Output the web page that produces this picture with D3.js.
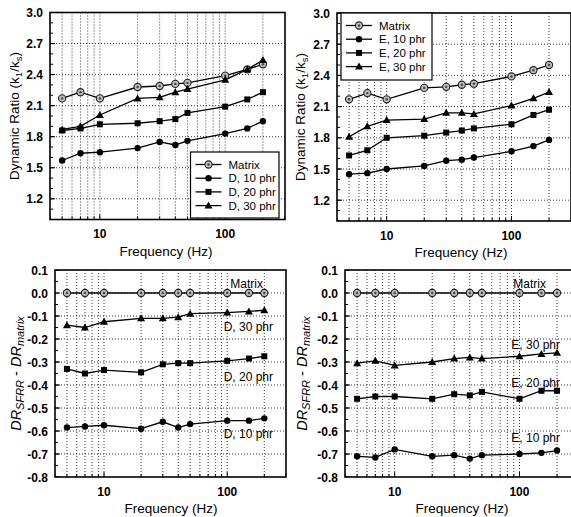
<!DOCTYPE html>
<html>
<head>
<meta charset="utf-8">
<script src="https://cdn.jsdelivr.net/npm/d3@7"></script>
<style>
  body { margin: 0; background: #fff; }
  svg { font-family: "Liberation Sans", Arial, sans-serif; }
</style>
</head>
<body>
<div id="container"></div>
<script>
// Frequencies (Hz) shared by all panels
const freq = [5, 7, 10, 20, 30, 40, 50, 100, 150, 200];

// Dynamic ratio, top panels
const matrixDR = [2.17, 2.23, 2.17, 2.28, 2.29, 2.31, 2.32, 2.39, 2.45, 2.50];
const d10DR = [1.57, 1.64, 1.65, 1.69, 1.75, 1.72, 1.76, 1.83, 1.88, 1.95];
const d20DR = [1.86, 1.88, 1.92, 1.93, 1.95, 1.97, 2.03, 2.09, 2.16, 2.23];
const d30DR = [1.87, 1.90, 2.01, 2.17, 2.18, 2.23, 2.26, 2.35, 2.45, 2.54];
const e10DR = [1.45, 1.46, 1.50, 1.53, 1.58, 1.59, 1.61, 1.67, 1.72, 1.78];
const e20DR = [1.63, 1.68, 1.80, 1.82, 1.85, 1.87, 1.89, 1.93, 2.02, 2.07];
const e30DR = [1.81, 1.91, 1.97, 1.98, 2.04, 2.04, 2.03, 2.11, 2.18, 2.24];

// DR_SFRR - DR_matrix, bottom panels
const matrixDiff = [0, 0, 0, 0, 0, 0, 0, 0, 0, 0];
const d10Diff = [-0.585, -0.58, -0.575, -0.59, -0.56, -0.585, -0.57, -0.555, -0.555, -0.545];
const d20Diff = [-0.33, -0.35, -0.335, -0.345, -0.31, -0.305, -0.305, -0.295, -0.285, -0.275];
const d30Diff = [-0.14, -0.15, -0.125, -0.11, -0.11, -0.105, -0.09, -0.085, -0.08, -0.075];
const e10Diff = [-0.71, -0.715, -0.68, -0.71, -0.705, -0.72, -0.705, -0.70, -0.695, -0.685];
const e20Diff = [-0.46, -0.45, -0.45, -0.46, -0.44, -0.445, -0.43, -0.46, -0.425, -0.425];
const e30Diff = [-0.305, -0.295, -0.315, -0.30, -0.285, -0.28, -0.285, -0.275, -0.265, -0.26];

// Tick labels
const xTickLabels = [10, 100];
const topYTicks = [1.2, 1.5, 1.8, 2.1, 2.4, 2.7, 3.0];
const bottomYTicks = [-0.8, -0.7, -0.6, -0.5, -0.4, -0.3, -0.2, -0.1, 0.0, 0.1];

const svg = d3.select("#container").append("svg")
    .attr("width", 571)
    .attr("height", 517);

// marker shapes
function drawMarker(g, kind, x, y) {
  if (kind === "matrix") {
    g.append("circle").attr("cx", x).attr("cy", y).attr("r", 3.6)
      .attr("fill", "#bdbdbd").attr("stroke", "#222").attr("stroke-width", 1.1);
    g.append("circle").attr("cx", x).attr("cy", y).attr("r", 1.2).attr("fill", "#444");
  } else if (kind === "circle") {
    g.append("circle").attr("cx", x).attr("cy", y).attr("r", 3.2).attr("fill", "#000");
  } else if (kind === "square") {
    g.append("rect").attr("x", x - 3).attr("y", y - 3).attr("width", 6).attr("height", 6).attr("fill", "#000");
  } else {
    g.append("path").attr("d", `M${x},${y - 4}L${x + 4},${y + 3}L${x - 4},${y + 3}Z`).attr("fill", "#000");
  }
}

function drawPanel(p) {
  const g = svg.append("g");
  const x = d3.scaleLog().domain([4, 300]).range([p.left, p.right]);
  const y = d3.scaleLinear().domain(p.yDomain).range([p.bottom, p.top]);

  // clip to the visible area of the frame
  const clipId = "clip" + p.id;
  svg.append("clipPath").attr("id", clipId)
    .append("rect").attr("x", p.left).attr("y", p.top)
    .attr("width", Math.min(p.right, 571) - p.left).attr("height", p.bottom - p.top);
  const inner = g.append("g").attr("clip-path", `url(#${clipId})`);

  // log minor values
  const xMinor = [];
  for (let dec = 1; dec <= 100; dec *= 10)
    for (let k = 1; k <= 9; k++) {
      const v = k * dec;
      if (v >= 4 && v <= 300) xMinor.push(v);
    }

  // dotted grid
  inner.selectAll(".vg").data(xMinor.filter(v => v > 4 && v < 300)).join("line")
    .attr("x1", d => x(d)).attr("x2", d => x(d))
    .attr("y1", p.top).attr("y2", p.bottom)
    .attr("stroke", "#222").attr("stroke-width", 0.9).attr("stroke-dasharray", "1,2");
  inner.selectAll(".hg").data(p.yTicks.filter(v => y(v) > p.top + 1 && y(v) < p.bottom - 1)).join("line")
    .attr("x1", p.left).attr("x2", p.right)
    .attr("y1", d => y(d)).attr("y2", d => y(d))
    .attr("stroke", "#222").attr("stroke-width", 0.9).attr("stroke-dasharray", "1,2");

  // inward ticks
  inner.selectAll(".xt").data(xMinor).join("line")
    .attr("x1", d => x(d)).attr("x2", d => x(d))
    .attr("y1", p.bottom).attr("y2", d => p.bottom - (xTickLabels.includes(d) ? 5 : 3))
    .attr("stroke", "#000").attr("stroke-width", 1);
  const yMinor = d3.range(p.yDomain[0], p.yDomain[1] + 1e-9, p.yMinorStep);
  inner.selectAll(".ytm").data(yMinor).join("line")
    .attr("x1", p.left).attr("x2", p.left + 3)
    .attr("y1", d => y(d)).attr("y2", d => y(d))
    .attr("stroke", "#000").attr("stroke-width", 1);
  inner.selectAll(".ytM").data(p.yTicks).join("line")
    .attr("x1", p.left).attr("x2", p.left + 5)
    .attr("y1", d => y(d)).attr("y2", d => y(d))
    .attr("stroke", "#000").attr("stroke-width", 1);

  // frame
  g.append("rect").attr("x", p.left).attr("y", p.top)
    .attr("width", p.right - p.left).attr("height", p.bottom - p.top)
    .attr("fill", "none").attr("stroke", "#000").attr("stroke-width", 1.6);

  // tick labels
  g.selectAll(".yl").data(p.yTicks).join("text")
    .attr("x", p.left - 7).attr("y", d => y(d) + 4.5)
    .attr("text-anchor", "end").attr("font-size", 12).attr("font-weight", "bold")
    .text(d => d.toFixed(1));
  g.selectAll(".xl").data(xTickLabels).join("text")
    .attr("x", d => x(d)).attr("y", p.bottom + 18.5)
    .attr("text-anchor", "middle").attr("font-size", 12).attr("font-weight", "bold")
    .text(d => d);

  // axis titles
  g.append("text").attr("x", p.xTitleX).attr("y", p.bottom + 36)
    .attr("text-anchor", "middle").attr("font-size", 13.5)
    .text("Frequency (Hz)");
  const yt = g.append("text")
    .attr("transform", `translate(${p.yTitleX},${(p.top + p.bottom) / 2}) rotate(-90)`)
    .attr("text-anchor", "middle").attr("font-size", p.yTitleSize);
  p.yTitle(yt);

  // series
  const line = d3.line().x((d, i) => x(freq[i])).y(d => y(d));
  p.series.forEach(s => {
    inner.append("path").datum(s.values).attr("d", line)
      .attr("fill", "none").attr("stroke", "#000").attr("stroke-width", 1.3);
    s.values.forEach((v, i) => drawMarker(inner, s.marker, x(freq[i]), y(v)));
  });

  // legend
  if (p.legend) {
    const L = p.legend;
    g.append("rect").attr("x", L.x).attr("y", L.y).attr("width", L.w).attr("height", L.h)
      .attr("fill", "#fff").attr("stroke", "#000").attr("stroke-width", 1.2);
    p.series.forEach((s, i) => {
      const cy = L.y + 12.5 + i * 13.7;
      g.append("line").attr("x1", L.x + 5).attr("x2", L.x + 31).attr("y1", cy).attr("y2", cy)
        .attr("stroke", "#000").attr("stroke-width", 1.3);
      drawMarker(g, s.marker, L.x + 18, cy);
      g.append("text").attr("x", L.x + 38).attr("y", cy + 4.2)
        .attr("font-size", 11.5).text(s.name);
    });
  }

  // inline labels
  if (p.labels) {
    p.labels.forEach(l => {
      g.append("text").attr("x", l.x).attr("y", y(l.v) + 4.5)
        .attr("text-anchor", "end").attr("font-size", 12).text(l.text);
    });
  }
}

function topTitle(t) {
  t.append("tspan").text("Dynamic Ratio (k");
  t.append("tspan").attr("font-size", 9.5).attr("dy", 3).text("1");
  t.append("tspan").attr("dy", -3).text("/k");
  t.append("tspan").attr("font-size", 9.5).attr("dy", 3).text("s");
  t.append("tspan").attr("dy", -3).text(")");
}
function bottomTitle(t) {
  t.append("tspan").attr("font-style", "italic").text("DR");
  t.append("tspan").attr("font-style", "italic").attr("font-size", 11).attr("dy", 3).text("SFRR");
  t.append("tspan").attr("dy", -3).text(" - ");
  t.append("tspan").attr("font-style", "italic").text("DR");
  t.append("tspan").attr("font-style", "italic").attr("font-size", 11).attr("dy", 3).text("matrix");
}

drawPanel({
  id: 1, left: 50, right: 285, top: 12.5, bottom: 219.5,
  yDomain: [1.0, 3.0], yTicks: topYTicks, yMinorStep: 0.1,
  xTitleX: 166, yTitleX: 19, yTitle: topTitle, yTitleSize: 13.5,
  series: [
    { name: "Matrix", marker: "matrix", values: matrixDR },
    { name: "D, 10 phr", marker: "circle", values: d10DR },
    { name: "D, 20 phr", marker: "square", values: d20DR },
    { name: "D, 30 phr", marker: "triangle", values: d30DR }
  ],
  legend: { x: 190.5, y: 152, w: 88.5, h: 66 }
});

drawPanel({
  id: 2, left: 337, right: 571, top: 13, bottom: 221,
  yDomain: [1.0, 3.0], yTicks: topYTicks, yMinorStep: 0.1,
  xTitleX: 461, yTitleX: 305, yTitle: topTitle, yTitleSize: 13.5,
  series: [
    { name: "Matrix", marker: "matrix", values: matrixDR },
    { name: "E, 10 phr", marker: "circle", values: e10DR },
    { name: "E, 20 phr", marker: "square", values: e20DR },
    { name: "E, 30 phr", marker: "triangle", values: e30DR }
  ],
  legend: { x: 341, y: 13, w: 91, h: 67 }
});

drawPanel({
  id: 3, left: 55, right: 286, top: 270, bottom: 477,
  yDomain: [-0.8, 0.1], yTicks: bottomYTicks, yMinorStep: 0.05,
  xTitleX: 171, yTitleX: 21, yTitle: bottomTitle, yTitleSize: 14.5,
  series: [
    { name: "Matrix", marker: "matrix", values: matrixDiff },
    { name: "D, 10 phr", marker: "circle", values: d10Diff },
    { name: "D, 20 phr", marker: "square", values: d20Diff },
    { name: "D, 30 phr", marker: "triangle", values: d30Diff }
  ],
  labels: [
    { text: "Matrix", x: 263, v: 0.04 },
    { text: "D, 30 phr", x: 273, v: -0.145 },
    { text: "D, 20 phr", x: 273, v: -0.365 },
    { text: "D, 10 phr", x: 273, v: -0.61 }
  ]
});

drawPanel({
  id: 4, left: 345, right: 579, top: 270, bottom: 477,
  yDomain: [-0.8, 0.1], yTicks: bottomYTicks, yMinorStep: 0.05,
  xTitleX: 462, yTitleX: 307, yTitle: bottomTitle, yTitleSize: 14.5,
  series: [
    { name: "Matrix", marker: "matrix", values: matrixDiff },
    { name: "E, 10 phr", marker: "circle", values: e10Diff },
    { name: "E, 20 phr", marker: "square", values: e20Diff },
    { name: "E, 30 phr", marker: "triangle", values: e30Diff }
  ],
  labels: [
    { text: "Matrix", x: 546, v: 0.04 },
    { text: "E, 30 phr", x: 560, v: -0.225 },
    { text: "E, 20 phr", x: 560, v: -0.39 },
    { text: "E, 10 phr", x: 560, v: -0.63 }
  ]
});
</script>
</body>
</html>
